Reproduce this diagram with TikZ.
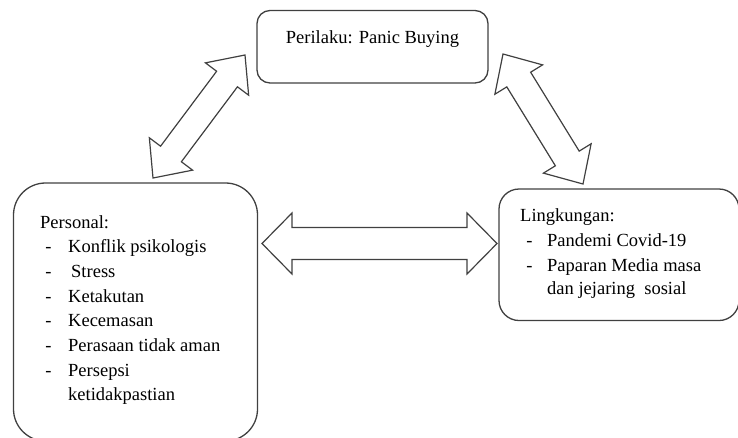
\documentclass[tikz,border=0pt]{standalone}
\usepackage{fontspec}
\setmainfont{Liberation Serif}
\usetikzlibrary{calc}

\tikzset{
  box/.style={draw=black!75, line width=1.3pt, rounded corners=#1, inner sep=0pt},
  txt/.style={inner sep=0pt, anchor=base west, font=\fontsize{18.5}{22}\selectfont},
  dsh/.style={inner sep=0pt, anchor=base, font=\fontsize{18.5}{22}\selectfont},
  arrowline/.style={draw=black!75, line width=1.2pt, line join=miter}
}

% hollow double arrow: from, to, shaft half-width, head half-width
\newcommand{\blockarrow}[4]{%
  \path ($(#1)!30pt!(#2)$) coordinate (h0) ($(#2)!30pt!(#1)$) coordinate (h1);
  \draw[arrowline] (#1) -- ($(h0)!#4!90:(#2)$) -- ($(h0)!#3!90:(#2)$)
    -- ($(h1)!#3!-90:(#1)$) -- ($(h1)!#4!-90:(#1)$) -- (#2)
    -- ($(h1)!#4!90:(#1)$) -- ($(h1)!#3!90:(#1)$)
    -- ($(h0)!#3!-90:(#2)$) -- ($(h0)!#4!-90:(#2)$) -- cycle;
}

\begin{document}
\begin{tikzpicture}[x=1pt, y=-1pt]
    \useasboundingbox (0,0) rectangle (738,437);

    % the three boxes
    \node[box=13pt, minimum width=231, minimum height=72.5] (behav) at (372.5,46.75) {};
    \node[box=32pt, minimum width=244, minimum height=258] (pers) at (135.5,312) {};
    \node[box=20pt, minimum width=240, minimum height=131.5] (env) at (619,254.75) {};

    % the texts
    \node[txt, anchor=base] (behavtxt) at (372.5,43) {Perilaku: Panic Buying};

    \node[txt] (perstxt) at (40,228) {Personal:};
    \foreach \t [count=\i] in {Konflik psikologis, , Ketakutan, Kecemasan, Perasaan tidak aman, Persepsi} {
        \node[dsh] (pdash\i) at (48.5,{228+\i*24.7}) {-};
        \node[txt] (pitem\i) at (68,{228+\i*24.7}) {\t};
    }
    \node[txt] (pstress) at (71,{228+2*24.7}) {Stress};
    \node[txt] (pitem7) at (68,{228+7*24.7}) {ketidakpastian};

    \node[txt] (envtxt) at (520,221.5) {Lingkungan:};
    \node[dsh] (edash1) at (529.5,246.5) {-};
    \node[txt] (eitem1) at (547,246.5) {Pandemi Covid-19};
    \node[dsh] (edash2) at (529.5,271) {-};
    \node[txt] (eitem2) at (547,271) {Paparan Media masa};
    \node[txt] (eitem3) at (547,294.5) {dan jejaring\ \ sosial};

    % the arrow ends
    \coordinate (la0) at (153,178);
    \coordinate (la1) at (245,55);
    \coordinate (ra0) at (503,54);
    \coordinate (ra1) at (583,184);
    \coordinate (ha0) at (262,243.5);
    \coordinate (ha1) at (497,243.5);

    % draw the arrows
    \blockarrow{la0}{la1}{13pt}{27pt}
    \blockarrow{ra0}{ra1}{14pt}{28pt}
    \blockarrow{ha0}{ha1}{16pt}{30.5pt}

\end{tikzpicture}
\end{document}
